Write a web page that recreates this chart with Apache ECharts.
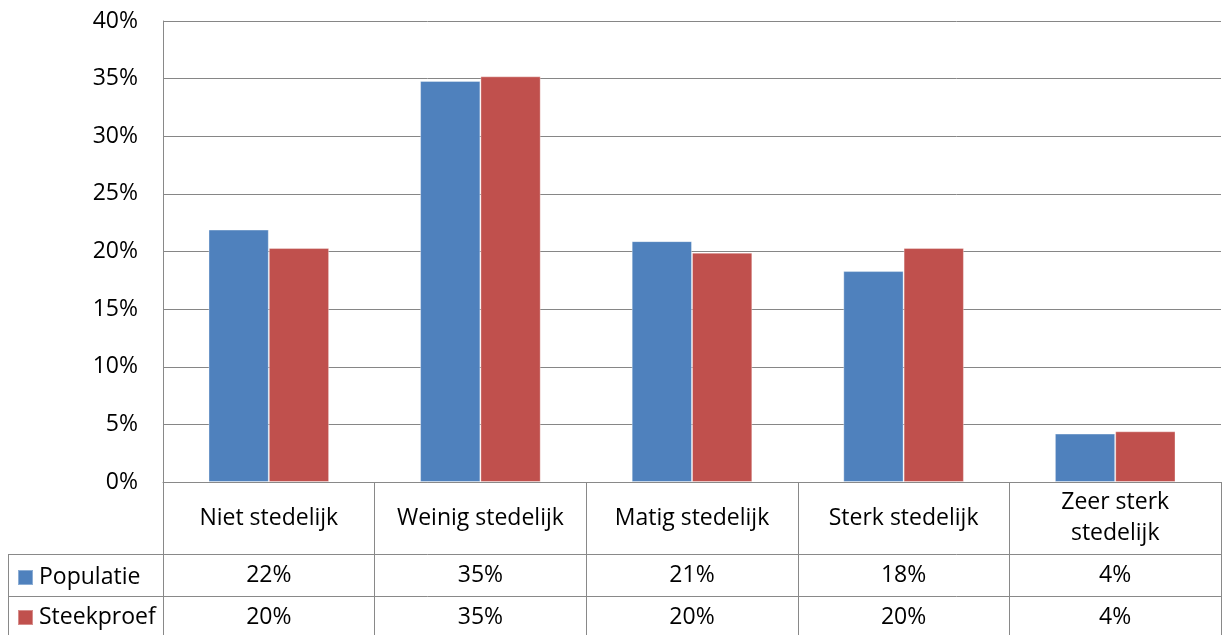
<!DOCTYPE html>
<html>
<head>
<meta charset="utf-8">
<script src="https://cdn.jsdelivr.net/npm/echarts@6/dist/echarts.min.js"></script>
<style>
html,body{margin:0;padding:0;background:#fff;}
#chart{width:1224px;height:635px;}
</style>
</head>
<body>
<div id="chart"></div>
<script>
// ---- data ----
const categories = ['Niet stedelijk', 'Weinig stedelijk', 'Matig stedelijk', 'Sterk stedelijk', 'Zeer sterk\nstedelijk'];
const seriesNames = ['Populatie', 'Steekproef'];
const populatie = [21.9, 34.8, 20.9, 18.3, 4.2];
const steekproef = [20.3, 35.2, 19.9, 20.3, 4.4];
const yTicks = [0, 5, 10, 15, 20, 25, 30, 35, 40];

// ---- layout ----
const W = 1224, H = 635;
const plotLeft = 163, plotRight = 1221, plotTop = 21, plotBottom = 482;
const headerH = 72, rowH = 42;
const tableLeft = 8;
const row1Y = plotBottom + headerH;      // 554
const row2Y = row1Y + rowH;              // 596
const lineColor = '#898989';
const font = 'Open Sans';
const fs = 23;

const chart = echarts.init(document.getElementById('chart'), null, {renderer: 'canvas'});
const fmt = v => Math.round(v) + '%';

chart.setOption({
  animation: false,
  color: ['#4F81BD', '#C0504D'],
  textStyle: {fontFamily: font, color: '#000'},
  grid: {left: plotLeft, right: W - plotRight, top: plotTop, bottom: H - plotBottom, containLabel: false},
  legend: {
    orient: 'vertical', left: tableLeft + 9, top: row1Y + 11, padding: 0,
    itemWidth: 15, itemHeight: 15, itemGap: 15,
    icon: 'rect',
    data: seriesNames,
    textStyle: {fontFamily: font, fontSize: fs, lineHeight: 25, color: '#000', padding: [0, 0, 0, 1]},
    selectedMode: false
  },
  xAxis: [
    {
      type: 'category', data: categories, position: 'bottom',
      axisLine: {show: true, lineStyle: {color: lineColor, width: 1}},
      axisTick: {show: true, length: H - plotBottom, lineStyle: {color: lineColor, width: 1}},
      axisLabel: {margin: headerH / 2, verticalAlign: 'middle', fontFamily: font, fontSize: fs, color: '#000', lineHeight: 31, interval: 0}
    },
    {
      type: 'category', data: categories, position: 'bottom', offset: headerH,
      axisLine: {show: true, lineStyle: {color: lineColor, width: 1}},
      axisTick: {show: false},
      axisLabel: {margin: rowH / 2, verticalAlign: 'middle', fontFamily: font, fontSize: fs, color: '#000', interval: 0,
        formatter: (v, i) => fmt(populatie[i])}
    },
    {
      type: 'category', data: categories, position: 'bottom', offset: headerH + rowH,
      axisLine: {show: true, lineStyle: {color: lineColor, width: 1}},
      axisTick: {show: false},
      axisLabel: {margin: 21, verticalAlign: 'middle', fontFamily: font, fontSize: fs, color: '#000', interval: 0,
        formatter: (v, i) => fmt(steekproef[i])}
    }
  ],
  yAxis: {
    type: 'value', min: yTicks[0], max: yTicks[yTicks.length - 1], interval: yTicks[1] - yTicks[0],
    axisLine: {show: true, lineStyle: {color: lineColor, width: 1}},
    axisTick: {show: false},
    splitLine: {lineStyle: {color: '#868686', width: 1}},
    axisLabel: {margin: 25, fontFamily: font, fontSize: fs, color: '#000', formatter: '{value}%'}
  },
  series: [
    {name: seriesNames[0], type: 'bar', data: populatie, barGap: '0%', barCategoryGap: '43%',
     itemStyle: {borderColor: 'rgba(255,255,255,0.35)', borderWidth: 1}},
    {name: seriesNames[1], type: 'bar', data: steekproef, barGap: '0%', barCategoryGap: '43%',
     itemStyle: {borderColor: 'rgba(255,255,255,0.35)', borderWidth: 1}}
  ],
  graphic: [
    {type: 'line', shape: {x1: tableLeft, y1: row1Y + 0.5, x2: plotLeft, y2: row1Y + 0.5}, style: {stroke: lineColor, lineWidth: 1}},
    {type: 'line', shape: {x1: tableLeft, y1: row2Y + 0.5, x2: plotLeft, y2: row2Y + 0.5}, style: {stroke: lineColor, lineWidth: 1}},
    {type: 'line', shape: {x1: tableLeft + 0.5, y1: row1Y, x2: tableLeft + 0.5, y2: H}, style: {stroke: lineColor, lineWidth: 1}}
  ]
});
</script>
</body>
</html>
